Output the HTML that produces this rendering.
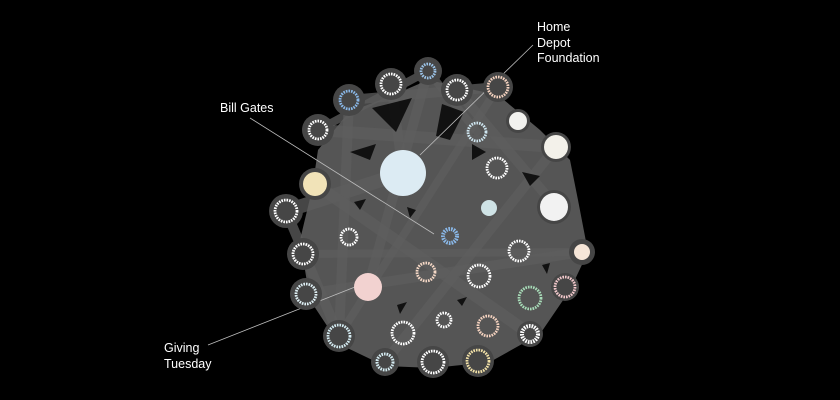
<!DOCTYPE html>
<html><head><meta charset="utf-8"><style>
html,body{margin:0;padding:0;background:#000;width:840px;height:400px;overflow:hidden}
svg{display:block}
text{font-family:"Liberation Sans",sans-serif;font-size:12.5px;fill:#fff}
</style></head><body>
<svg width="840" height="400" viewBox="0 0 840 400" xmlns="http://www.w3.org/2000/svg">
<rect width="840" height="400" fill="#000"/>
<polygon points="318,150 349,112 391,96 428,80 498,95 540,130 570,160 578,200 588,252 570,290 540,334 490,362 433,368 385,366 339,344 310,300 300,240 312,190" fill="#555"/>
<g stroke="#5e5e5e" stroke-opacity="0.75" stroke-linecap="round">
<line x1="349" y1="100" x2="498" y2="87" stroke-width="10"/>
<line x1="318" y1="130" x2="556" y2="147" stroke-width="12"/>
<line x1="318" y1="130" x2="428" y2="71" stroke-width="8"/>
<line x1="391" y1="84" x2="403" y2="173" stroke-width="10"/>
<line x1="428" y1="71" x2="368" y2="287" stroke-width="10"/>
<line x1="428" y1="71" x2="477" y2="132" stroke-width="8"/>
<line x1="457" y1="90" x2="556" y2="207" stroke-width="10"/>
<line x1="349" y1="100" x2="339" y2="336" stroke-width="10"/>
<line x1="286" y1="211" x2="403" y2="173" stroke-width="14"/>
<line x1="286" y1="211" x2="339" y2="336" stroke-width="10"/>
<line x1="303" y1="254" x2="582" y2="252" stroke-width="8"/>
<line x1="315" y1="184" x2="530" y2="334" stroke-width="12"/>
<line x1="306" y1="294" x2="582" y2="252" stroke-width="10"/>
<line x1="498" y1="87" x2="339" y2="336" stroke-width="8"/>
<line x1="556" y1="147" x2="385" y2="362" stroke-width="10"/>
</g>
<g fill="#000" fill-opacity="0.8">
<polygon points="372,108 412,98 396,132"/>
<polygon points="442,104 464,112 450,140 436,136"/>
<polygon points="350,152 376,144 370,160"/>
<polygon points="472,144 486,152 472,160"/>
<polygon points="522,172 540,176 530,186"/>
<polygon points="354,202 366,199 360,210"/>
<polygon points="407,207 416,210 410,218"/>
<polygon points="457,300 467,297 462,306"/>
<polygon points="397,305 407,302 400,314"/>
<polygon points="542,265 550,263 547,274"/>
</g>
<g stroke="#bdbdbd" stroke-width="0.8" fill="none">
<line x1="533" y1="45" x2="420" y2="155"/>
<line x1="250" y1="118" x2="434" y2="234"/>
<line x1="208" y1="345" x2="355" y2="287"/>
</g>
<g fill="#464646">
<circle cx="428" cy="71" r="14"/><circle cx="391" cy="84" r="16"/><circle cx="349" cy="100" r="16"/>
<circle cx="457" cy="90" r="16"/><circle cx="498" cy="87" r="15"/><circle cx="318" cy="130" r="16"/>
<circle cx="518" cy="121" r="12"/><circle cx="556" cy="147" r="15"/>
<circle cx="315" cy="184" r="16"/><circle cx="286" cy="211" r="17"/><circle cx="554" cy="207" r="17"/>
<circle cx="582" cy="252" r="13"/><circle cx="303" cy="254" r="16"/><circle cx="306" cy="294" r="16"/>
<circle cx="565" cy="287" r="14"/><circle cx="530" cy="334" r="13"/><circle cx="339" cy="336" r="16"/>
<circle cx="385" cy="362" r="14"/><circle cx="433" cy="362" r="16"/><circle cx="478" cy="361" r="16"/>
</g>
<circle cx="403" cy="173" r="23" fill="#dcebf3"/>
<circle cx="315" cy="184" r="12" fill="#f1e3b8"/>
<circle cx="518" cy="121" r="9" fill="#f2f2ef"/>
<circle cx="556" cy="147" r="12" fill="#f3f1ea"/>
<circle cx="554" cy="207" r="14" fill="#f2f2f2"/>
<circle cx="489" cy="208" r="8" fill="#cfe3e6"/>
<circle cx="582" cy="252" r="8" fill="#f6e6d8"/>
<circle cx="368" cy="287" r="14" fill="#f2d2d0"/>
<g fill="none" stroke-width="2.8" stroke-dasharray="1.6 1">
<circle cx="428" cy="71" r="7" stroke="#9cc4e8"/>
<circle cx="391" cy="84" r="10" stroke="#fff"/>
<circle cx="349" cy="100" r="9" stroke="#8ab8e8"/>
<circle cx="457" cy="90" r="10" stroke="#fff"/>
<circle cx="498" cy="87" r="10" stroke="#f5d3c0"/>
<circle cx="318" cy="130" r="9" stroke="#fff"/>
<circle cx="477" cy="132" r="9" stroke="#cfe6f0"/>
<circle cx="497" cy="168" r="10" stroke="#fff"/>
<circle cx="286" cy="211" r="11" stroke="#fff"/>
<circle cx="450" cy="236" r="7" stroke="#8ab8e8" stroke-width="4"/>
<circle cx="349" cy="237" r="8" stroke="#fff"/>
<circle cx="303" cy="254" r="10" stroke="#fff"/>
<circle cx="519" cy="251" r="10" stroke="#fff"/>
<circle cx="426" cy="272" r="9" stroke="#f5d8c6"/>
<circle cx="479" cy="276" r="11" stroke="#fff"/>
<circle cx="306" cy="294" r="10" stroke="#dff0f5"/>
<circle cx="565" cy="287" r="10" stroke="#f3c9cc"/>
<circle cx="530" cy="298" r="11" stroke="#a8dcb8"/>
<circle cx="444" cy="320" r="7" stroke="#fff"/>
<circle cx="488" cy="326" r="10" stroke="#f5d3c0"/>
<circle cx="403" cy="333" r="11" stroke="#fff"/>
<circle cx="339" cy="336" r="11" stroke="#d5ecf2"/>
<circle cx="530" cy="334" r="8" stroke="#fff" stroke-width="4"/>
<circle cx="385" cy="362" r="8" stroke="#d5ecf2" stroke-width="3"/>
<circle cx="433" cy="362" r="11" stroke="#fff"/>
<circle cx="478" cy="361" r="11" stroke="#f3e2a8"/>
</g>
<text x="537" y="31">Home</text>
<text x="537" y="47">Depot</text>
<text x="537" y="62">Foundation</text>
<text x="220" y="112">Bill Gates</text>
<text x="164" y="352">Giving</text>
<text x="164" y="368">Tuesday</text>
</svg>
</body></html>
